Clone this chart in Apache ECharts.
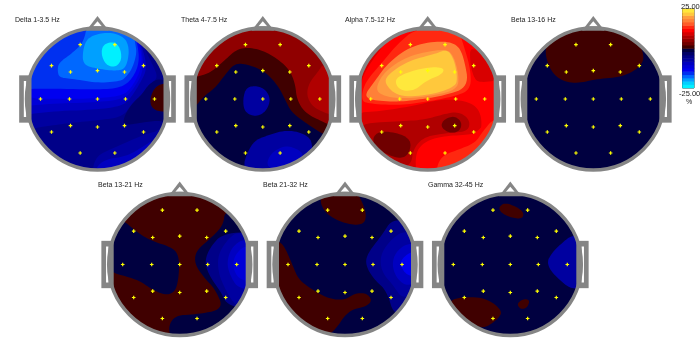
<!DOCTYPE html>
<html><head><meta charset="utf-8">
<style>html,body{margin:0;padding:0;background:#fff}#c{width:700px;height:346px}</style>
<script src="https://cdn.jsdelivr.net/npm/echarts@6/dist/echarts.min.js"></script>
</head><body><div id="c"></div>
<script>
// Map titles
const mapTitles = ['Delta 1-3.5 Hz','Theta 4-7.5 Hz','Alpha 7.5-12 Hz','Beta 13-16 Hz','Beta 13-21 Hz','Beta 21-32 Hz','Gamma 32-45 Hz'];
// Colour scale, lowest band first (-25 .. 25 %)
const bandColors = ['#00f0ff','#00d0ff','#00a0ff','#0068ff','#0030f0','#0000f0','#0000d8','#0000c0','#0000a0','#000088','#000068','#000040',
                    '#400000','#700000','#900000','#b00000','#d80000','#ff0000','#ff2810','#ff5c28','#ff8038','#ff9c40','#ffc83c','#ffe83c'];
const scaleLabels = ['25.00','-25.00','%'];
// Electrode sites in head units (head radius = 208)
const electrodes = [[-52,-163],[52,-163],[-138,-100],[-81,-81],[0,-85],[81,-81],[138,-100],[-171,0],[-84,0],[0,0],[84,0],[171,0],[-138,99],[-81,80],[0,84],[81,80],[138,99],[-52,162],[52,162]];
// Head centre of each contour list's own coordinates
const contourOrigins = [[292,298],[263,298],[248,298],[250,298],[254,267],[240,267],[241,267]];
// Contours: [percent value, flat outline]; painted in order over the base value
const deltaBase = -5;
const deltaContours = [
 [-7.5,[40,395,150,378,210,370,290,362,368,352,395,312,425,285,445,255,475,235,455,190,425,130,400,70,300,40,40,40]],
 [-9.5,[40,350,150,335,290,330,370,318,395,290,420,250,440,210,432,160,412,110,390,60,300,40,40,40]],
 [-11.5,[40,322,150,312,290,308,372,298,400,268,425,225,430,185,420,130,400,80,300,40,40,40]],
 [-14,[40,296,200,298,290,296,370,288,398,258,420,215,426,180,415,125,395,70,300,40,40,40]],
 [-16,[40,270,130,266,290,270,360,265,395,240,418,190,412,130,395,75,300,40,40,40]],
 [-18,[172,215,175,190,210,165,250,130,262,70,395,70,405,130,410,160,397,205,378,232,360,245,290,250,215,237,178,234]],
 [-20,[248,195,248,150,262,115,300,100,345,100,378,118,388,155,377,207,345,214,290,207]],
 [-24,[303,165,308,135,340,125,360,143,365,180,347,203,318,197]],
 [-7.5,[275,530,285,470,340,445,430,405,470,395,490,380,530,420,420,530]],
 [-9.5,[280,530,300,482,380,470,430,440,460,420,490,450,400,530]],
 [-3,[368,378,372,350,395,312,425,285,445,255,475,235,520,250,525,375,480,362,430,368]],
 [1,[448,310,456,275,478,252,520,252,520,335,495,337,463,332]]];
const thetaBase = -1;
const thetaContours = [
 [-7.5,[195,530,225,430,280,405,340,390,395,405,415,435,400,530]],
 [-9.5,[273,507,283,463,330,436,372,450,387,470,350,517]],
 [-7.5,[203,300,213,263,245,258,272,270,287,300,272,337,240,352,208,337]],
 [1,[30,330,58,325,85,290,120,265,150,225,180,190,220,195,270,215,310,260,330,300,350,340,400,375,445,405,520,430,540,30,30,30]],
 [5,[30,235,100,225,150,180,190,145,240,145,290,165,340,205,360,250,365,300,390,340,440,365,470,378,530,340,530,30,30,30]],
 [7.5,[395,275,405,245,430,215,445,190,500,240,500,345,470,347,420,327,400,302]]];
const alphaBase = 11.5;
const alphaContours = [
 [9.5,[20,340,100,335,200,320,280,300,340,300,390,315,410,350,408,400,370,405,290,410,240,425,210,460,215,540,20,540]],
 [7.5,[30,372,165,365,240,360,290,345,340,335,375,360,370,395,310,400,240,410,205,445,198,500,130,520,30,450]],
 [3,[286,380,298,358,330,348,352,370,342,397,310,400]],
 [3,[83,410,110,393,170,403,199,425,192,462,170,477,130,467,88,442]],
 [11.5,[215,540,225,450,280,420,375,410,415,380,420,350,470,340,510,540]],
 [14,[270,530,285,470,340,450,390,430,410,400,450,350,510,400,410,540]],
 [9.5,[130,60,130,120,60,210,40,280,10,60]],
 [9.5,[375,135,440,190,470,240,400,250,385,230,375,190]],
 [14,[48,302,58,250,110,190,160,130,215,85,340,90,357,140,377,210,377,272,320,292,240,307,160,317,70,312]],
 [18,[58,287,85,250,130,188,200,138,285,123,337,133,357,175,372,262,300,287,240,297,160,307,80,302]],
 [20,[91,267,118,215,190,168,290,148,322,158,342,225,337,272,240,292,160,297,110,287]],
 [22,[118,252,128,225,190,183,270,163,307,148,327,180,337,230,332,262,250,287,160,292]],
 [24,[148,242,173,223,240,203,298,203,292,224,245,242,207,274,163,272]]];
const beta1Base = -1;
const beta1Contours = [
 [1,[103,150,125,110,190,70,300,70,375,110,402,160,397,197,340,232,265,237,200,252,150,242,118,207]]];
const beta2Base = 1;
const beta2Contours = [
 [-1,[95,143,120,165,165,195,230,215,252,240,252,300,242,347,215,360,170,342,130,312,30,287,10,200,60,120]],
 [-1,[390,100,385,150,345,190,303,225,298,265,330,310,360,340,387,402,300,417,235,420,216,470,260,530,500,520,520,100]],
 [-5,[385,172,345,215,328,260,345,305,375,345,400,395,500,400,500,170]],
 [-7.5,[430,165,395,195,368,240,370,290,385,330,410,375,430,395,500,330,500,200]],
 [-9.5,[445,190,410,215,395,260,405,300,430,340,490,340,490,200]],
 [-11.5,[460,205,425,230,412,265,425,305,460,320,490,280]]];
const beta3Base = -1;
const beta3Contours = [
 [1,[163,70,185,40,270,40,302,100,302,142,270,150,220,137,178,110]],
 [1,[40,195,60,215,85,275,100,310,130,335,190,370,240,374,270,353,305,353,322,375,302,394,250,404,205,472,150,500,0,410,0,195]],
 [-5,[385,125,350,180,310,230,300,265,325,310,365,345,390,430,500,400,500,150]],
 [-7.5,[415,165,375,195,345,240,350,290,385,330,415,375,500,330,490,180]],
 [-9.5,[435,200,395,225,380,265,395,310,430,335,490,300,490,220]],
 [-14,[445,225,415,245,405,265,420,295,450,305,490,260]]];
const gammaBase = -1;
const gammaContours = [
 [-7.5,[430,176,395,203,365,233,350,262,370,297,435,352,500,300,490,190]],
 [1,[206,95,225,81,262,95,282,112,277,130,245,127,213,112]],
 [1,[50,378,100,363,170,368,217,405,207,427,175,452,150,457,90,430]],
 [1,[260,385,280,370,300,373,292,397,272,402]]];
const mapBases = [deltaBase,thetaBase,alphaBase,beta1Base,beta2Base,beta3Base,gammaBase];
const mapContours = [deltaContours,thetaContours,alphaContours,beta1Contours,beta2Contours,beta3Contours,gammaContours];

// layout (pixels)
const centersX = [97.5,262.8,427.7,593.3,179.7,345,510.3];
const centersY = [99,99,99,99,264.5,264.5,264.5];
const titleLeft = [15,181,345,511,98,263,428];
const titleTop = [17,17,17,17,182,182,182];

const headGrey = '#858585';
function colorOf(v){ return bandColors[Math.min(23,Math.max(0,Math.floor((v+25)/50*24)))]; }
// rounds an outline's corners so contours read as curves
function rounded(p){ for(let k=0;k<3;k++){ const q=[]; p.forEach((a,i)=>{ const b=p[(i+1)%p.length];
  q.push([.75*a[0]+.25*b[0],.75*a[1]+.25*b[1]],[.25*a[0]+.75*b[0],.25*a[1]+.75*b[1]]); }); p=q; } return p; }
function poly(api,flat,ox,oy){ const p=[]; for(let i=0;i<flat.length;i+=2) p.push(api.coord([flat[i]-ox,flat[i+1]-oy])); return rounded(p); }

const grids=[],xAxes=[],yAxes=[],series=[],titles=[];
centersX.forEach((cx,m)=>{
  const cy=centersY[m];
  grids.push({left:cx-84,top:cy-86,width:168,height:166,containLabel:false});
  xAxes.push({type:'value',gridIndex:m,min:-252,max:252,show:false});
  yAxes.push({type:'value',gridIndex:m,min:-258,max:240,inverse:true,show:false});
  titles.push({text:mapTitles[m],left:titleLeft[m],top:titleTop[m],padding:0,textStyle:{fontFamily:'Liberation Sans',fontSize:7,fontWeight:'normal',color:'#222'}});
  const regs=mapContours[m], [ox,oy]=contourOrigins[m];
  series.push({type:'custom',xAxisIndex:m,yAxisIndex:m,clip:false,silent:true,z:2,animation:false,
    data:[[0,0,-1]].concat(regs.map((r,i)=>[0,0,i])),
    renderItem:(params,api)=>{
      const i=api.value(2), c=api.coord([0,0]), R=api.coord([213,0])[0]-c[0];
      const clip={type:'circle',shape:{cx:c[0],cy:c[1],r:R}};
      if(i<0) return {type:'circle',shape:{cx:c[0],cy:c[1],r:R},style:{fill:colorOf(mapBases[m])}};
      return {type:'polygon',shape:{points:poly(api,regs[i][1],ox,oy)},style:{fill:colorOf(regs[i][0])},clipPath:clip};
    }});
  series.push({type:'custom',xAxisIndex:m,yAxisIndex:m,clip:false,silent:true,z:3,animation:false,
    data:[[0,0]],
    renderItem:(params,api)=>{
      const c=api.coord([0,0]), R=api.coord([213,0])[0]-c[0];
      const P=(x,y)=>api.coord([x,y]);
      const ear=s=>[
        {type:'polygon',shape:{points:[P(s*235,-71),P(s*198,-71),P(s*198,71),P(s*235,71)]},style:{fill:headGrey}},
        {type:'polygon',shape:{points:[P(s*221,-54),P(s*214,-54),P(s*214,54),P(s*221,54)]},style:{fill:'#fff'}}];
      return {type:'group',children:[
        ...ear(-1),...ear(1),
        {type:'polygon',shape:{points:[P(0,-249),P(-34,-205),P(34,-205)]},style:{fill:headGrey}},
        {type:'polygon',shape:{points:[P(0,-233),P(-13,-218),P(13,-218)]},style:{fill:'#fff'}},
        {type:'circle',shape:{cx:c[0],cy:c[1],r:R},style:{fill:'none',stroke:headGrey,lineWidth:3.5}}
      ]};
    }});
  series.push({type:'scatter',xAxisIndex:m,yAxisIndex:m,silent:true,z:4,animation:false,
    data:electrodes,symbol:'path://M2,0H4V2H6V4H4V6H2V4H0V2H2Z',symbolSize:3.6,
    itemStyle:{color:'#ffff00',opacity:1}});
});
// colour bar
const bi=centersX.length;
grids.push({left:682.5,top:9,width:11.5,height:79,show:true,borderColor:'#333',borderWidth:1,backgroundColor:'transparent'});
xAxes.push({type:'category',gridIndex:bi,data:['%'],show:false});
yAxes.push({type:'category',gridIndex:bi,data:bandColors.map((c,i)=>i),show:false});
series.push({type:'heatmap',xAxisIndex:bi,yAxisIndex:bi,silent:true,animation:false,
  data:bandColors.map((c,i)=>({value:[0,i,-25+(i+.5)*50/24],itemStyle:{color:c}}))});
[[scaleLabels[0],681,2.5],[scaleLabels[1],679,90],[scaleLabels[2],686,99]].forEach(([t,l,tp])=>{
  titles.push({text:t,left:l,top:tp,padding:0,textStyle:{fontFamily:'Liberation Sans',fontSize:t==='%'?7:7.5,fontWeight:'normal',color:'#222'}});
});
const chart=echarts.init(document.getElementById('c'),null,{renderer:'canvas'});
chart.setOption({animation:false,backgroundColor:'#fff',title:titles,grid:grids,xAxis:xAxes,yAxis:yAxes,series});
</script></body></html>
